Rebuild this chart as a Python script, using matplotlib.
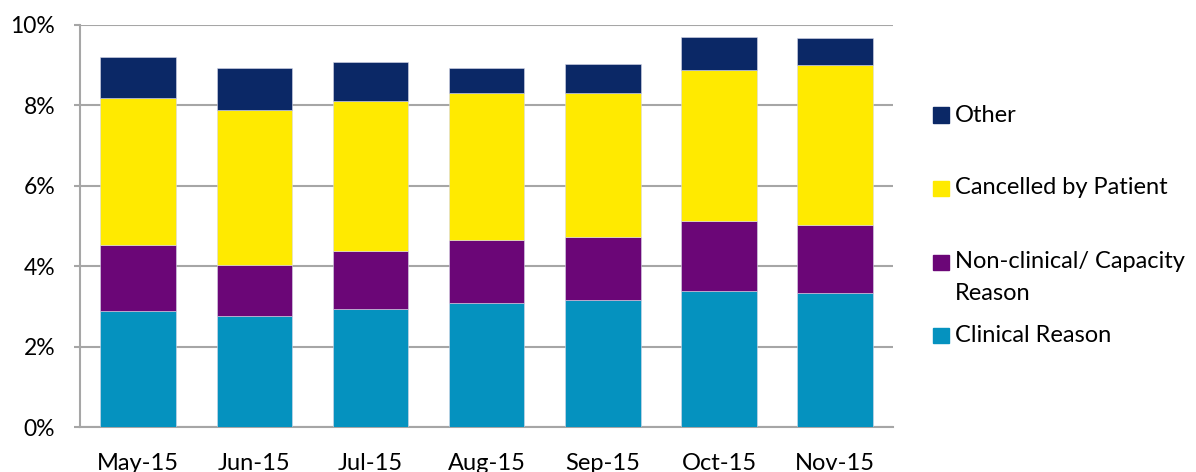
import numpy as np
import matplotlib.pyplot as plt
from matplotlib.patches import Rectangle

months = ["May-15", "Jun-15", "Jul-15", "Aug-15", "Sep-15", "Oct-15", "Nov-15"]

# percentages per reason (stacked, bottom to top)
clinical = [2.88, 2.75, 2.93, 3.09, 3.15, 3.38, 3.33]
non_clinical = [1.65, 1.28, 1.45, 1.55, 1.58, 1.74, 1.69]
cancelled = [3.65, 3.84, 3.73, 3.66, 3.58, 3.76, 3.97]
other = [1.02, 1.04, 0.97, 0.61, 0.72, 0.81, 0.67]

labels = ["Clinical Reason", "Non-clinical/ Capacity\nReason", "Cancelled by Patient", "Other"]
colors = ["#0592bf", "#6b0677", "#ffea00", "#0b2866"]
series = [clinical, non_clinical, cancelled, other]

plt.rcParams['font.family'] = ['Lato', 'DejaVu Sans']

fig = plt.figure(figsize=(11.96, 4.72), dpi=100)
ax = fig.add_axes([0.0669, 0.0953, 0.68, 0.8527])

x = np.arange(len(months))
bottom = np.zeros(len(months))
for vals, col, lab in zip(series, colors, labels):
    ax.bar(x, vals, 0.65, bottom=bottom, color=col, label=lab, zorder=3,
           edgecolor="#d8d8e8", linewidth=0.4)
    bottom += np.array(vals)

ax.set_xlim(-0.5, 6.5)
ax.set_ylim(0, 10)
ax.set_yticks(np.arange(0, 11, 2))
ax.set_yticklabels(["{0}%".format(v) for v in range(0, 11, 2)])
ax.set_xticks(x)
ax.set_xticklabels(months)
ax.grid(axis="y", color="#a6a6a6", linewidth=1.5, zorder=0)
for s in ["top", "right"]:
    ax.spines[s].set_visible(False)
for s in ["left", "bottom"]:
    ax.spines[s].set_color("#a6a6a6")
    ax.spines[s].set_linewidth(1.5)
ax.tick_params(axis="y", length=4, color="#a6a6a6", width=1.5, labelsize=16.5, pad=14)
ax.tick_params(axis="x", length=0, labelsize=17, pad=18.5)

# legend drawn at the right, top entry first
leg_y = [115, 188, 262, 335]
for i, k in enumerate([3, 2, 1, 0]):
    yy = 1 - leg_y[i] / 472.0
    fig.patches.append(Rectangle((933 / 1196.0, yy - 7.5 / 472.0), 16 / 1196.0, 15 / 472.0,
                                 transform=fig.transFigure, color=colors[k]))
    name = labels[k].split("\n")
    fig.text(955 / 1196.0, yy, name[0], fontsize=17, va="center", ha="left")
    if len(name) > 1:
        fig.text(955 / 1196.0, yy - 31 / 472.0, name[1], fontsize=17, va="center", ha="left")

fig.savefig("out.png", dpi=100)
